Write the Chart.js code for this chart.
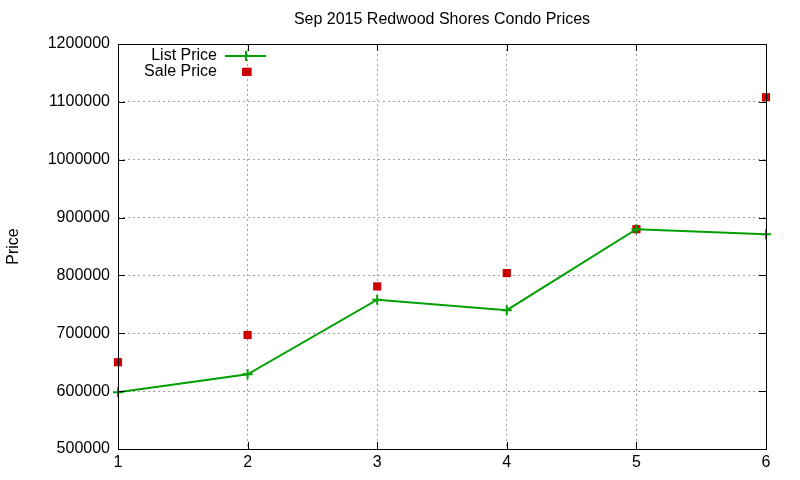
<!DOCTYPE html>
<html>
<head>
<meta charset="utf-8">
<script src="https://cdn.jsdelivr.net/npm/chart.js@4/dist/chart.umd.min.js"></script>
<style>
  html, body { margin: 0; padding: 0; background: #fff; }
  #wrap { width: 800px; height: 480px; }
</style>
</head>
<body>
<div id="wrap"><canvas id="chart"></canvas></div>
<script>
// Sep 2015 Redwood Shores condo prices
const listX      = [1, 2, 3, 4, 5, 6];
const listPrice  = [598000, 629000, 758000, 740000, 880000, 871000];
const saleX      = [1, 2, 2, 3, 4, 5, 6];
const salePrice  = [650000, 697000, 1152000, 781000, 804000, 880000, 1108000];
const xTicks     = [1, 2, 3, 4, 5, 6];
const yTicks     = [500000, 600000, 700000, 800000, 900000, 1000000, 1100000, 1200000];

const GREEN = '#00a000';
const RED   = '#cc0000';
const FONT  = '"Liberation Sans", Arial, sans-serif';

// ── Title, frame, inward ticks and in-plot legend (gnuplot look) ──
const frame = {
    id: 'frame',
    afterDraw(chart) {
        const { ctx, chartArea: a, scales } = chart;
        ctx.save();
        ctx.strokeStyle = '#000';
        ctx.lineWidth = 1;
        ctx.strokeRect(a.left + 0.5, a.top + 0.5, a.right - a.left, a.bottom - a.top);

        // inward tick marks on all four sides
        ctx.beginPath();
        scales.y.ticks.forEach(t => {
            const y = Math.round(scales.y.getPixelForValue(t.value)) + 0.5;
            ctx.moveTo(a.left, y);  ctx.lineTo(a.left + 7, y);
            ctx.moveTo(a.right, y); ctx.lineTo(a.right - 7, y);
        });
        scales.x.ticks.forEach(t => {
            const x = Math.round(scales.x.getPixelForValue(t.value)) + 0.5;
            ctx.moveTo(x, a.bottom); ctx.lineTo(x, a.bottom - 7);
            ctx.moveTo(x, a.top);    ctx.lineTo(x, a.top + 7);
        });
        ctx.stroke();

        // title
        ctx.fillStyle = '#000';
        ctx.font = '16px ' + FONT;
        ctx.textAlign = 'center';
        ctx.textBaseline = 'middle';
        ctx.fillText('Sep 2015 Redwood Shores Condo Prices', (a.left + a.right) / 2, 20);

        // legend
        ctx.textAlign = 'right';
        const tx = a.left + 99, sx = a.left + 128;
        chart.data.datasets.forEach((d, i) => {
            const y = a.top + 12 + i * 16;
            ctx.fillStyle = '#000';
            ctx.fillText(d.label, tx, y);
            if (d.showLine) {
                ctx.strokeStyle = d.borderColor;
                ctx.lineWidth = 2;
                ctx.beginPath();
                ctx.moveTo(sx - 21, y); ctx.lineTo(sx + 20, y);
                ctx.moveTo(sx, y - 5);  ctx.lineTo(sx, y + 5);
                ctx.stroke();
            } else {
                ctx.fillStyle = d.backgroundColor;
                ctx.fillRect(sx - 4, y - 4, 8, 8);
            }
        });
        ctx.restore();
    }
};

const gridOpts = { color: '#a0a0a0', drawTicks: false };
const borderOpts = { display: false, dash: [2, 3] };

new Chart(document.getElementById('chart'), {
    type: 'scatter',
    data: {
        datasets: [
            {
                label: 'List Price',
                data: listX.map((x, i) => ({ x, y: listPrice[i] })),
                showLine: true,
                clip: false,
                borderColor: GREEN,
                backgroundColor: GREEN,
                borderWidth: 2,
                pointStyle: 'cross',
                pointRadius: 5,
                pointBorderWidth: 2,
                tension: 0
            },
            {
                label: 'Sale Price',
                data: saleX.map((x, i) => ({ x, y: salePrice[i] })),
                showLine: false,
                clip: false,
                borderColor: RED,
                backgroundColor: RED,
                pointStyle: 'rect',
                pointRadius: 5.8,
                pointBorderWidth: 0
            }
        ]
    },
    options: {
        responsive: true,
        maintainAspectRatio: false,
        animation: false,
        layout: { padding: { top: 44, right: 34, bottom: 0, left: 4 } },
        plugins: {
            legend:  { display: false },
            title:   { display: false },
            tooltip: { enabled: false }
        },
        scales: {
            x: {
                type: 'linear',
                min: 1, max: 6,
                afterBuildTicks: s => { s.ticks = xTicks.map(v => ({ value: v })); },
                afterFit: s => { s.height = 31; },
                grid: gridOpts,
                border: borderOpts,
                ticks: { color: '#000', font: { family: FONT, size: 16 }, padding: 4 }
            },
            y: {
                min: 500000, max: 1200000,
                afterBuildTicks: s => { s.ticks = yTicks.map(v => ({ value: v })); },
                afterFit: s => { s.width = 114; },
                grid: gridOpts,
                border: borderOpts,
                title: { display: true, text: 'Price', color: '#000', font: { family: FONT, size: 16 }, padding: 0 },
                ticks: { color: '#000', font: { family: FONT, size: 16 }, padding: 8, callback: v => String(v) }
            }
        }
    },
    plugins: [frame]
});
</script>
</body>
</html>
